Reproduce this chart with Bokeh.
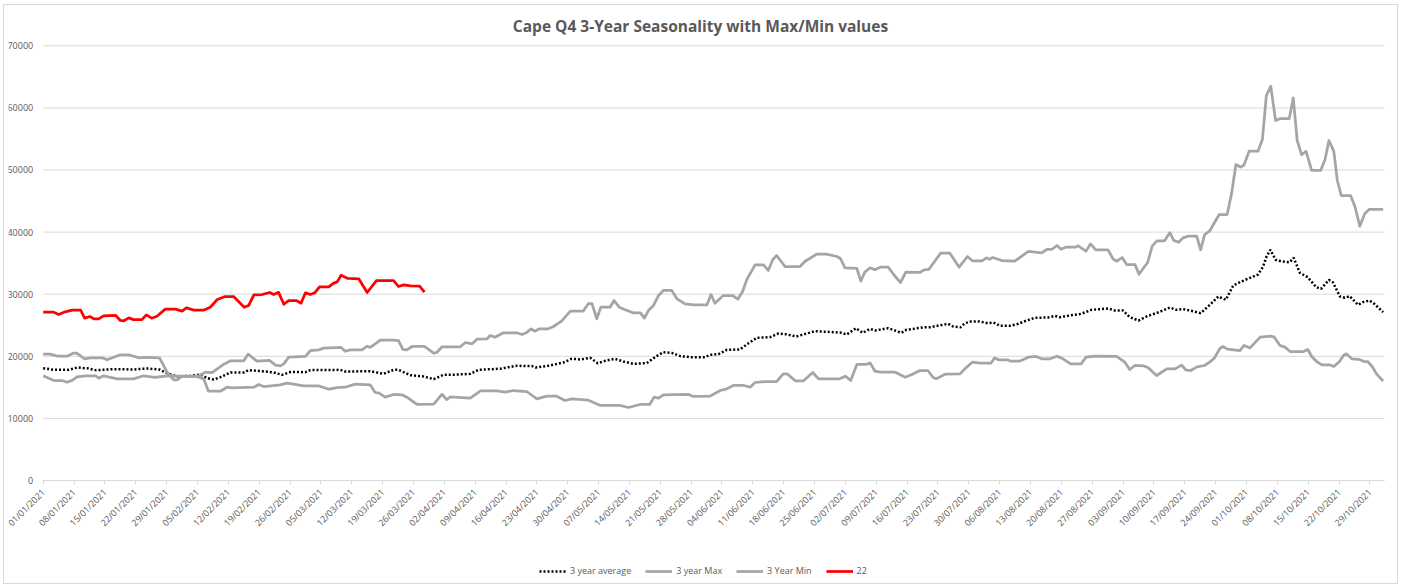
import math
from datetime import datetime, timedelta

from bokeh.plotting import figure
from bokeh.models import (Range1d, FixedTicker, DatetimeTickFormatter, Legend,
                          LegendItem, BasicTickFormatter)
from bokeh.embed import file_html
from bokeh.resources import INLINE

# ---------------- data (x = days after 01/01/2021, y = value) ----------------
START = datetime(2021, 1, 1)
END_DAY = 304.3

avg_points = [
    (0, 18090), (2.4, 17820), (5.8, 17820), (7.7, 18200), (10.3, 18040), (11.9, 17770),
    (16, 17930), (20.5, 17880), (23.6, 18040), (26.3, 17880), (28.5, 17170), (30.4, 16750),
    (33.4, 16850), (35.7, 17060), (37.2, 16480), (38.7, 16260), (40.2, 16640), (42.5, 17390),
    (45.5, 17390), (46.6, 17770), (49.7, 17600), (52.3, 17390), (54.2, 17010), (56.2, 17500),
    (59.5, 17440), (60.6, 17770), (67.4, 17820), (68.5, 17550), (74.2, 17600), (77.2, 17170),
    (79.5, 17820), (80.6, 17820), (83.3, 16960), (86.3, 16750), (88.6, 16320), (90.8, 17010),
    (92.3, 17010), (96.9, 17170), (98.8, 17820), (103.7, 18000), (105.5, 18250), (107.5, 18470),
    (110.9, 18420), (111.7, 18200), (115, 18520), (118, 19000), (119.9, 19600), (121.9, 19490),
    (124.1, 19760), (125.8, 18890), (127.7, 19330), (129.7, 19600), (131.6, 19170), (133.9, 18790),
    (136.9, 18890), (138.8, 19860), (140.7, 20660), (142.6, 20550), (144.6, 20020), (146.9, 19860),
    (150.2, 19860), (151.3, 20230), (153.2, 20340), (155.1, 21040), (158.1, 21100), (159.6, 21900),
    (161.9, 22980), (164.9, 23080), (166.8, 23670), (168.3, 23570), (170.9, 23190), (173.2, 23670),
    (175.1, 24040), (180.8, 23830), (182.3, 23510), (184.4, 24530), (185.9, 23780), (187.6, 24420),
    (188.7, 24150), (191.7, 24530), (194.7, 23780), (195.8, 24260), (200, 24690), (201.2, 24690),
    (205.3, 25230), (206.4, 24800), (208.1, 24660), (209.1, 25330), (210.5, 25600), (212.4, 25600),
    (214.3, 25330), (215.6, 25440), (217.1, 24910), (219.4, 24910), (221.2, 25230), (223.1, 25760),
    (225, 26190), (228, 26250), (229.5, 26520), (230.6, 26300), (232.9, 26570), (235.5, 26840),
    (237.8, 27480), (241.6, 27700), (243.1, 27370), (245, 27370), (246.5, 26300), (248.5, 25760),
    (250.3, 26410), (253.3, 27160), (255.6, 27850), (257.1, 27480), (258.6, 27600), (260.9, 27260),
    (262.6, 26950), (264.7, 28290), (266.6, 29630), (268.3, 29100), (270, 31400), (271.5, 31930),
    (273.8, 32640), (275.6, 33170), (276.7, 34350), (277.5, 35960), (278.4, 37150), (279.6, 35540),
    (280.9, 35270), (282.8, 35150), (283.7, 35860), (285.1, 33440), (286.9, 32740), (288.8, 31130),
    (289.9, 30860), (291.7, 32310), (292.6, 31930), (294.2, 29630), (295.3, 29420), (296.4, 29680),
    (298.3, 28290), (299.4, 28720), (300.9, 28980), (302, 28450), (304, 27100),
]

max_points = [
    (0, 20340), (1.6, 20340), (3.2, 20020), (5.4, 20020), (6.8, 20500), (7.6, 20500), (9.4, 19600),
    (10.7, 19760), (13.4, 19760), (14.5, 19430), (17.5, 20240), (19.4, 20240), (21.7, 19760),
    (23.2, 19810), (26.4, 19760), (28.1, 17440), (29.6, 16220), (30.4, 16220), (31.5, 16750),
    (34.9, 16750), (36.8, 17440), (38.3, 17390), (39.5, 17980), (41, 18730), (42.5, 19280),
    (45.5, 19280), (46.5, 20340), (48.5, 19220), (51.4, 19330), (52.7, 18570), (53.8, 18460),
    (54.6, 18780), (55.7, 19860), (59.5, 19970), (60.6, 20930), (62.5, 21040), (63.6, 21310),
    (67.6, 21420), (68.5, 20820), (69.7, 21040), (72.3, 21040), (73.5, 21630), (74.2, 21420),
    (76.5, 22600), (79.5, 22600), (80.6, 22540), (81.6, 21100), (82.5, 21040), (83.7, 21580),
    (86.5, 21580), (88.6, 20500), (89.3, 20610), (90.5, 21530), (94.6, 21530), (95.8, 22220),
    (97.3, 22000), (98.4, 22760), (100.7, 22810), (101.4, 23350), (102.5, 23080), (104.4, 23780),
    (107.5, 23780), (108.6, 23510), (109.6, 23780), (110.7, 24430), (111.5, 24050), (112.6, 24430),
    (114.6, 24430), (115.8, 24800), (116.9, 25330), (117.6, 25650), (119.6, 27260), (122.5, 27260),
    (123.7, 28500), (124.5, 28500), (125.6, 26040), (126.5, 27910), (128.6, 27910), (129.5, 28980),
    (130.7, 27910), (131.9, 27530), (133.8, 27000), (135.5, 27000), (136.4, 26140), (137.3, 27370),
    (138.4, 28130), (139.6, 29790), (140.7, 30600), (142.6, 30600), (143.8, 29260), (145.6, 28450),
    (147.5, 28290), (150.6, 28290), (151.5, 29950), (152.4, 28550), (154.3, 29790), (156.4, 29790),
    (157.6, 29200), (158.7, 30480), (159.6, 32310), (161.5, 34730), (163.4, 34730), (164.5, 33820),
    (165.5, 35540), (166.4, 36230), (168.3, 34460), (171.7, 34460), (172.8, 35270), (175.5, 36450),
    (177.7, 36450), (180.1, 36070), (180.9, 35710), (181.9, 34250), (184.6, 34140), (185.5, 32100),
    (186.4, 33550), (187.6, 34250), (188.7, 33930), (189.9, 34350), (191.7, 34350), (193.3, 32850),
    (194.5, 31880), (195.7, 33550), (198.9, 33500), (199.9, 33930), (200.9, 33980), (203.6, 36610),
    (205.7, 36610), (207.8, 34350), (209.7, 36070), (210.8, 35370), (213, 35370), (214, 35850),
    (214.7, 35640), (215.4, 35900), (217.5, 35420), (220.4, 35310), (223.5, 36880), (226.5, 36660),
    (227.7, 37200), (228.8, 37200), (230, 37840), (230.9, 37250), (232, 37570), (234.1, 37570),
    (234.8, 37790), (236.6, 36930), (237.6, 38110), (238.8, 37140), (241.6, 37140), (242.7, 35690),
    (243.5, 35310), (244.8, 35900), (245.8, 34780), (247.7, 34780), (248.6, 33220), (250.6, 35150),
    (251.6, 37730), (252.7, 38590), (254.4, 38590), (255.6, 39900), (256.5, 38650), (257.6, 38380),
    (258.6, 39070), (259.7, 39340), (261.7, 39340), (262.6, 37150), (263.5, 39610), (264.6, 40140),
    (266.8, 42830), (268.6, 42830), (269.6, 46160), (270.6, 50880), (271.7, 50450), (272.4, 50770),
    (273.6, 53030), (275.6, 53030), (276.6, 54910), (277.5, 61990), (278.5, 63490), (279.6, 57970),
    (280.7, 58290), (282.7, 58290), (283.6, 61620), (284.5, 54750), (285.5, 52450), (286.5, 53000),
    (287.8, 49920), (289.8, 49920), (290.8, 51640), (291.7, 54750), (292.8, 53030), (293.6, 48310),
    (294.5, 45890), (296.6, 45890), (297.6, 44120), (298.7, 40950), (299.8, 42940), (300.8, 43640),
    (304, 43640),
]

min_points = [
    (0, 16860), (2.4, 16100), (4.3, 16100), (5.4, 15830), (6.5, 16100), (7.7, 16700), (9.6, 16860),
    (11.9, 16860), (12.6, 16480), (13.7, 16860), (16.8, 16370), (20.5, 16370), (22.8, 16860),
    (25.4, 16590), (28.1, 16860), (34.9, 16750), (36.4, 16370), (37.5, 14380), (40.2, 14380),
    (41.7, 15020), (42.8, 14910), (47.8, 15020), (48.9, 15460), (50, 15130), (53.8, 15400),
    (55.3, 15670), (56.8, 15510), (59.1, 15240), (62.5, 15240), (64.8, 14700), (66.7, 14970),
    (68.5, 15020), (70.8, 15510), (74.2, 15400), (75.3, 14170), (76.1, 14120), (77.6, 13420),
    (79.5, 13850), (81.4, 13800), (82.5, 13420), (84.8, 12240), (88.6, 12290), (90.5, 13900),
    (91.5, 13040), (92.4, 13470), (96.9, 13260), (99.2, 14440), (103, 14440), (104.8, 14220),
    (106.7, 14490), (109.7, 14330), (112, 13150), (114.3, 13580), (116.5, 13580), (118.4, 12880),
    (119.9, 13150), (123.7, 12930), (126.4, 12080), (130.9, 12080), (132.8, 11760), (135.4, 12240),
    (137.6, 12240), (138.6, 13420), (139.6, 13260), (140.7, 13790), (146.4, 13850), (147.5, 13530),
    (151.3, 13580), (153.6, 14490), (155.1, 14760), (156.6, 15300), (158.9, 15300), (160.4, 15030),
    (161.5, 15780), (163.8, 15940), (166.4, 15940), (167.9, 17170), (168.8, 17170), (170.6, 16050),
    (172.5, 16050), (174.6, 17390), (175.9, 16370), (180.7, 16370), (182, 16800), (183.2, 16100),
    (184.6, 18680), (186.7, 18680), (187.6, 18950), (188.7, 17600), (189.9, 17440), (193.3, 17440),
    (195.6, 16640), (197.1, 17060), (198.9, 17710), (200.7, 17710), (201.9, 16590), (202.6, 16370),
    (204.6, 17120), (208, 17170), (209.1, 17980), (210.8, 19050), (212.7, 18890), (215, 18890),
    (215.8, 19700), (216.9, 19430), (218.8, 19430), (219.5, 19220), (221.5, 19220), (223.5, 19860),
    (225.3, 19970), (226.5, 19600), (228.4, 19600), (230, 20020), (231.1, 19700), (233.1, 18790),
    (235.5, 18790), (236.6, 19860), (238.6, 20020), (243.5, 19970), (245.4, 19050), (246.5, 17870),
    (247.7, 18520), (249.6, 18470), (250.7, 18150), (252.6, 16910), (254.9, 17980), (256.8, 17980),
    (258.3, 18580), (259.2, 17820), (260.3, 17710), (261.8, 18300), (263.5, 18520), (264.6, 19050),
    (265.7, 19700), (266.9, 21200), (267.6, 21580), (268.7, 21150), (271.5, 20930), (272.4, 21740),
    (273.8, 21360), (276.1, 23080), (278.5, 23240), (279.3, 23080), (280.6, 21740), (281.7, 21470),
    (282.9, 20770), (285.9, 20770), (286.9, 21100), (287.8, 19970), (288.9, 19160), (290.1, 18630),
    (291.9, 18630), (292.8, 18360), (294.1, 19160), (295, 20130), (295.6, 20400), (296.9, 19600),
    (298.6, 19490), (299.7, 19160), (300.5, 19160), (301.5, 18360), (302.5, 17170), (304, 15990),
]

y22_points = [
    (0, 27100), (2.4, 27100), (3.5, 26730), (5, 27160), (6.6, 27430), (8.5, 27430), (9.4, 26140),
    (10.6, 26400), (11.5, 26030), (12.6, 26030), (13.7, 26520), (16.4, 26600), (17.5, 25770),
    (18.3, 25720), (19.4, 26190), (20.5, 25900), (22.4, 25900), (23.4, 26680), (24.6, 26140),
    (25.8, 26460), (27.7, 27590), (30, 27590), (31.5, 27270), (32.5, 27800), (34.2, 27430),
    (36.4, 27430), (37.9, 27900), (39.5, 29150), (41.3, 29620), (43.2, 29620), (45.6, 27900),
    (46.6, 28170), (47.8, 29900), (49.7, 29950), (51.4, 30270), (52.3, 29950), (53.4, 30300),
    (54.6, 28390), (55.7, 28980), (57.4, 28980), (58.5, 28550), (59.5, 30220), (60.6, 29950),
    (61.6, 30220), (62.7, 31190), (64.8, 31190), (65.9, 31780), (66.7, 31990), (67.6, 33060),
    (69.1, 32530), (71.6, 32480), (73.5, 30270), (75.6, 32200), (79.5, 32200), (80.6, 31240),
    (81.8, 31510), (83.3, 31350), (85.4, 31300), (86.5, 30320),
]

series_names = ["3 year average", "3 year Max", "3 Year Min", "22"]
y_ticks = [0, 10000, 20000, 30000, 40000, 50000, 60000, 70000]
x_tick_days = list(range(0, 302, 7))
title_text = "Cape Q4 3-Year Seasonality with Max/Min values"

# ---------------- helpers ----------------
EPOCH = datetime(1970, 1, 1)


def to_dt(d):
    return START + timedelta(days=d)


def to_ms(d):
    return (to_dt(d) - EPOCH).total_seconds() * 1000.0


def split(points):
    xs = [to_dt(d) for d, _ in points]
    ys = [v for _, v in points]
    return xs, ys


TEXT = "#595959"
GRID = "#d9d9d9"
GREY = "#a5a5a5"
FONT = "Open Sans"

# The frame spans (almost) the whole chart area; both axes sit at fixed
# positions inside it so that their labels and the legend are never clipped.
p = figure(width=1395, height=580, x_axis_type="datetime",
           output_backend="svg", toolbar_location=None,
           x_range=Range1d(to_dt(-7.87), to_dt(306.12)),
           y_range=Range1d(-16425, 71175),
           min_border_left=4, min_border_right=7, min_border_top=33,
           min_border_bottom=3)
p.styles = {"margin": "4px 0px 0px 3px", "border": "1px solid #d9d9d9"}

p.title.text = title_text
p.title.align = "center"
p.title.standoff = 3
p.title.text_font = FONT
p.title.text_font_size = "15.5px"
p.title.text_font_style = "bold"
p.title.text_color = TEXT
p.outline_line_color = None
p.background_fill_color = "white"
p.border_fill_color = "white"

# axes
xa = p.xaxis[0]
xa.fixed_location = 0
xa.bounds = (to_ms(0), to_ms(END_DAY))
xa.ticker = FixedTicker(ticks=[to_ms(d) for d in x_tick_days])
fmt = "%d/%m/%Y"
xa.formatter = DatetimeTickFormatter(milliseconds=fmt, seconds=fmt, minsec=fmt, minutes=fmt,
                                     hourmin=fmt, hours=fmt, days=fmt, months=fmt, years=fmt)
xa.major_label_orientation = math.pi / 4
xa.axis_line_color = GRID
xa.major_tick_line_color = GRID
xa.major_tick_in = 0
xa.major_tick_out = 4
xa.minor_tick_line_color = None
xa.major_label_text_font = FONT
xa.major_label_text_font_size = "9px"
xa.major_label_text_color = TEXT
xa.major_label_standoff = 6

ya = p.yaxis[0]
ya.fixed_location = to_ms(0)
ya.bounds = (0, 70000)
ya.ticker = FixedTicker(ticks=y_ticks)
ya.formatter = BasicTickFormatter(use_scientific=False)
ya.axis_line_color = None
ya.major_tick_line_color = None
ya.major_tick_out = 0
ya.major_tick_in = 0
ya.minor_tick_line_color = None
ya.major_label_standoff = 10
ya.major_label_text_font = FONT
ya.major_label_text_font_size = "9px"
ya.major_label_text_color = TEXT

p.xgrid.grid_line_color = None
p.ygrid.grid_line_color = None

# horizontal gridlines, only across the dated span
p.segment(x0=[to_dt(0)] * len(y_ticks), x1=[to_dt(END_DAY)] * len(y_ticks),
          y0=y_ticks, y1=y_ticks, line_color=GRID, line_width=1)

# lines
ax, ay = split(avg_points)
mx, my = split(max_points)
nx, ny = split(min_points)
rx, ry = split(y22_points)

r_avg = p.line(ax, ay, line_color="black", line_width=2.5, line_dash="2 2")
r_max = p.line(mx, my, line_color=GREY, line_width=2.75, line_join="round")
r_min = p.line(nx, ny, line_color=GREY, line_width=2.75, line_join="round")
r_22 = p.line(rx, ry, line_color="#ff0000", line_width=2.75, line_join="round")

legend = Legend(items=[LegendItem(label=series_names[0], renderers=[r_avg]),
                       LegendItem(label=series_names[1], renderers=[r_max]),
                       LegendItem(label=series_names[2], renderers=[r_min]),
                       LegendItem(label=series_names[3], renderers=[r_22])],
                orientation="horizontal", location=(531, 5),
                border_line_color=None, background_fill_alpha=0,
                label_text_font=FONT, label_text_font_size="9px", label_text_color=TEXT,
                glyph_width=27, glyph_height=12, label_height=12, label_standoff=4,
                spacing=14, padding=2, margin=0)
p.add_layout(legend, "center")

open("out.html", "w").write(file_html(p, INLINE))
